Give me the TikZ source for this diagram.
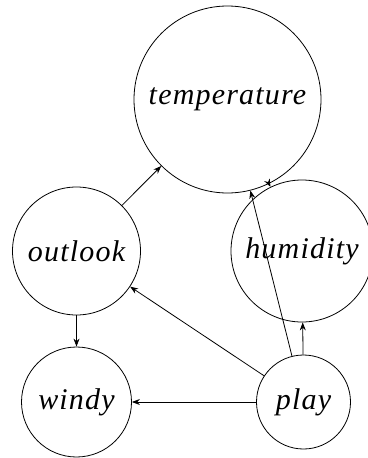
\documentclass[tikz,border=0pt]{standalone}
\usepackage{fontspec}
\usetikzlibrary{arrows.meta}
\newfontfamily\varfont{Liberation Serif}[LetterSpace=4]

\begin{document}
\begin{tikzpicture}[
    x=1pt, y=-1pt,
    >={Stealth[length=8pt, width=6pt]},
    var/.style={circle, draw, line width=0.8pt, inner sep=0pt,
                font=\varfont\itshape\fontsize{30}{32}\selectfont},
    edge/.style={->, line width=0.8pt},
]
\useasboundingbox (0,0) rectangle (367,458);

% ==================== variables ====================
\node[var, minimum size=187pt] (temp) at (227.5,99.5) {temperature};
\node[var, minimum size=128pt] (outl) at (76.5,251)   {outlook};
\node[var, minimum size=142pt] (humi) at (302,251)    {humidity};
\node[var, minimum size=110pt] (wind) at (76.5,402)   {windy};
\node[var, minimum size=94pt]  (play) at (303.5,402)  {play};

% ==================== tree among attributes ====================
\draw[edge] (outl) -- (temp);
\draw[edge] (outl) -- (wind);
\draw[edge] (temp) -- (humi);

% ==================== class node ====================
\draw[edge] (play) -- (outl);
\draw[edge] (play) -- (temp);
\draw[edge] (play) -- (humi);
\draw[edge] (play) -- (wind);

\end{tikzpicture}
\end{document}
